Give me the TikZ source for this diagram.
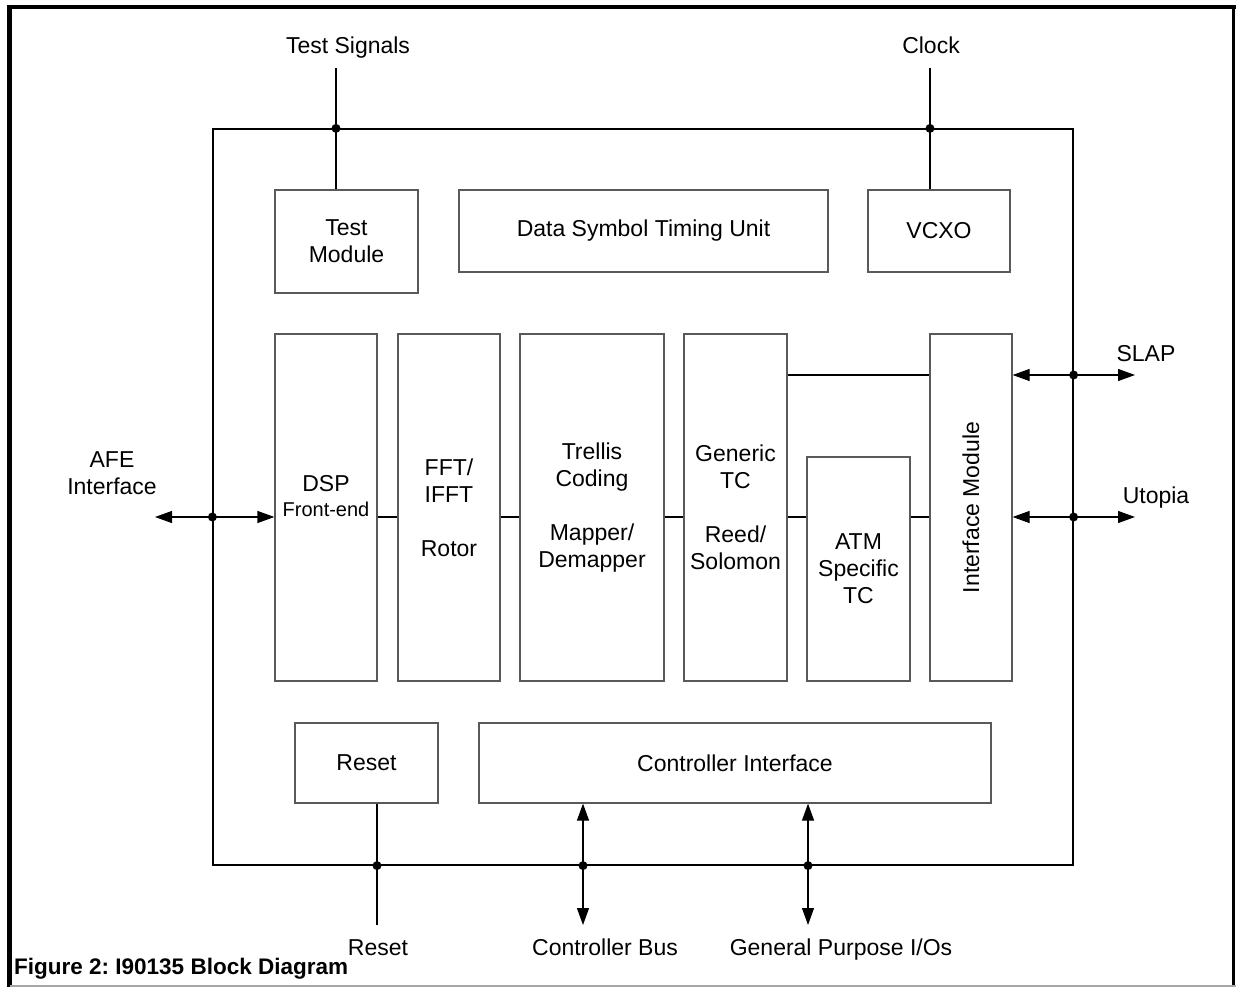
\documentclass[tikz,border=0pt]{standalone}
\usepackage{fontspec}
\setmainfont{Liberation Sans}
\usetikzlibrary{arrows.meta, positioning}
\frenchspacing

\begin{document}
\begin{tikzpicture}[x=1pt, y=-1pt, font=\fontsize{23}{27}\selectfont,
    blk/.style={draw=black!65, line width=1.2pt, inner sep=0pt, align=center},
    wire/.style={line width=1.2pt},
    dot/.style={circle, fill, inner sep=0pt, minimum size=9pt},
    bidir/.style={wire, {Triangle[length=17pt,width=12pt]}-{Triangle[length=17pt,width=12pt]}},
    lbl/.style={anchor=base, align=center}]
    \useasboundingbox (0,0) rectangle (1236,987);

    % frame
    \draw[line width=4.5pt] (9.5,987) -- (9.5,7) -- (1236,7);
    \draw[line width=3pt] (1233.5,7) -- (1233.5,987);
    \draw[black!35, line width=1.5pt] (9.5,986) -- (1236,986);

    % chip
    \node[draw, wire, minimum width=860, minimum height=736] (chip) at (643,497) {};

    % top row
    \node[blk, minimum width=143, minimum height=103] (test) at (346.5,241.5) {Test\\Module};
    \node[blk, minimum width=369, minimum height=82] (dstu) at (643.5,231) {Data Symbol Timing Unit};
    \node[blk, minimum width=142, minimum height=82] (vcxo) at (939,231) {VCXO};

    % data path
    \node[blk, minimum width=102, minimum height=347] (dsp) at (326,507.5) {};
    \node[align=center] (dspt) at ([yshift=11.5pt]dsp.center) {DSP\\[-2pt]{\fontsize{20}{25}\selectfont Front-end}};
    \node[blk, minimum width=102, minimum height=347] (fft) at (449,507.5) {FFT/\\IFFT\\[27pt]Rotor};
    \node[blk, minimum width=144, minimum height=347] (trellis) at (592,507.5) {Trellis\\Coding\\[27pt]Mapper/\\Demapper};
    \node[blk, minimum width=103, minimum height=347] (generic) at (735.5,507.5) {Generic\\TC\\[27pt]Reed/\\Solomon};
    \node[blk, minimum width=103, minimum height=224] (atm) at (858.5,569) {ATM\\Specific\\TC};
    \node[blk, minimum width=82, minimum height=347] (intf) at (971,507.5) {};
    \node[rotate=90] (intft) at (intf.center) {Interface Module};

    % bottom row
    \node[blk, minimum width=143, minimum height=80] (reset) at (366.5,763) {Reset};
    \node[blk, minimum width=512, minimum height=80] (ctrl) at (735,763) {Controller Interface};

    % internal links
    \coordinate (busy) at (0,517);
    \foreach \a/\b in {dsp/fft, fft/trellis, trellis/generic, generic/atm, atm/intf} {
        \draw[wire] (\a.east |- busy) -- (\b.west |- busy);
    }
    \coordinate (slapy) at (0,375);
    \draw[wire] (generic.east |- slapy) -- (intf.west |- slapy);

    % top signals
    \node[lbl] (tsig) at (348,54) {Test Signals};
    \node[lbl] (clk) at (931,54) {Clock};
    \coordinate (tsigend) at (336,68);
    \coordinate (clkend) at (930,68);
    \draw[wire] (tsigend) -- (tsigend |- test.north);
    \draw[wire] (clkend) -- (clkend |- vcxo.north);
    \node[dot] (d1) at (tsigend |- chip.north) {};
    \node[dot] (d2) at (clkend |- chip.north) {};

    % left and right ports
    \node[align=center] (afe) at (112,473) {AFE\\Interface};
    \coordinate (afeend) at (155,517);
    \draw[bidir] (afeend) -- (dsp.west |- afeend);
    \node[dot] (d3) at (chip.west |- afeend) {};

    \node[lbl] (slap) at (1146,361) {SLAP};
    \node[lbl] (utop) at (1156,503) {Utopia};
    \coordinate (slapend) at (1135,375);
    \coordinate (utopend) at (1135,517);
    \draw[bidir] (intf.east |- slapend) -- (slapend);
    \draw[bidir] (intf.east |- utopend) -- (utopend);
    \node[dot] (d4) at (chip.east |- slapend) {};
    \node[dot] (d5) at (chip.east |- utopend) {};

    % bottom ports
    \coordinate (rstend) at (377,925);
    \coordinate (cbend) at (583,925);
    \coordinate (gpend) at (808,925);
    \draw[wire] (rstend |- reset.south) -- (rstend);
    \draw[bidir] (cbend |- ctrl.south) -- (cbend);
    \draw[bidir] (gpend |- ctrl.south) -- (gpend);
    \node[dot] (d6) at (rstend |- chip.south) {};
    \node[dot] (d7) at (cbend |- chip.south) {};
    \node[dot] (d8) at (gpend |- chip.south) {};
    \node[lbl] (rstl) at (378,955) {Reset};
    \node[lbl] (cbl) at (605,955) {Controller Bus};
    \node[lbl] (gpl) at (841,955) {General Purpose I/Os};

    % caption
    \node[anchor=base west, inner sep=0pt, font=\bfseries\fontsize{22.5}{27}\selectfont] (cap) at (14,974) {Figure 2: I90135 Block Diagram};
\end{tikzpicture}
\end{document}
